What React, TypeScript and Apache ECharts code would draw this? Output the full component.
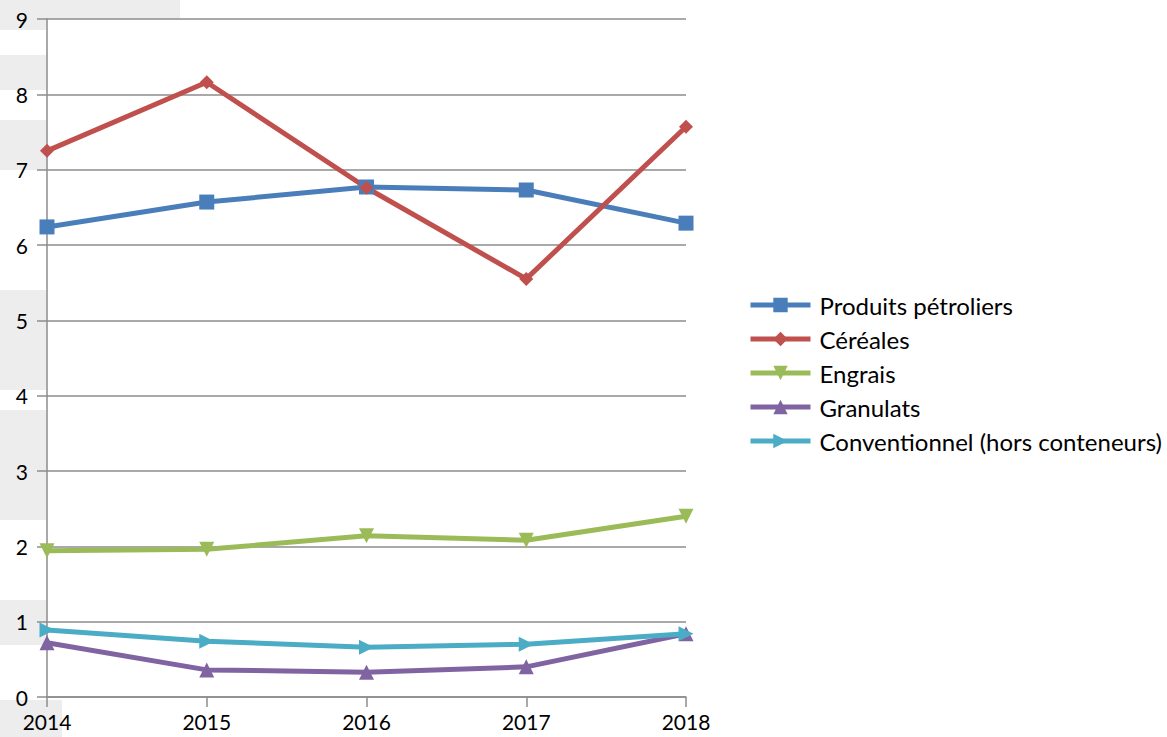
import React, { useEffect, useRef } from "react";
import * as echarts from "echarts";

const years = ["2014", "2015", "2016", "2017", "2018"];
const produitsPetroliers = [6.24, 6.57, 6.77, 6.73, 6.29];
const cereales = [7.25, 8.16, 6.76, 5.55, 7.57];
const engrais = [1.94, 1.96, 2.14, 2.08, 2.4];
const granulats = [0.72, 0.36, 0.33, 0.4, 0.84];
const conventionnel = [0.89, 0.74, 0.66, 0.7, 0.84];

const FONT = "Lato, 'Open Sans', sans-serif";

export default function App() {
  const ref = useRef<HTMLDivElement>(null);
  useEffect(() => {
    if (!ref.current) return;
    const chart = echarts.init(ref.current, null, { renderer: "svg" });
    const mk = (name: string, data: number[], color: string, symbol: string, size: number, rot = 0) => ({
      name,
      type: "line",
      data,
      symbol,
      symbolSize: size,
      symbolRotate: rot,
      showSymbol: true,
      lineStyle: { color, width: 5 },
      itemStyle: { color },
      z: 3,
    });
    const wm = "#ededed";
    chart.setOption({
      animation: false,
      backgroundColor: "#ffffff",
      textStyle: { fontFamily: FONT },
      graphic: [
        { type: "rect", z: -10, shape: { x: 0, y: 0, width: 180, height: 19 }, style: { fill: wm } },
        { type: "rect", z: -10, shape: { x: 0, y: 0, width: 47, height: 30 }, style: { fill: wm } },
        { type: "rect", z: -10, shape: { x: 0, y: 55, width: 47, height: 35 }, style: { fill: wm } },
        { type: "rect", z: -10, shape: { x: 0, y: 120, width: 47, height: 50 }, style: { fill: wm } },
        { type: "rect", z: -10, shape: { x: 0, y: 290, width: 47, height: 100 }, style: { fill: wm } },
        { type: "rect", z: -10, shape: { x: 0, y: 410, width: 47, height: 110 }, style: { fill: wm } },
        { type: "rect", z: -10, shape: { x: 0, y: 600, width: 47, height: 45 }, style: { fill: wm } },
        { type: "rect", z: -10, shape: { x: 0, y: 700, width: 62, height: 37 }, style: { fill: wm } },
      ],
      grid: { left: 47, right: 481, top: 19, bottom: 40, containLabel: false },
      legend: {
        orient: "vertical",
        left: 743,
        top: 288,
        itemWidth: 60,
        itemHeight: 18,
        itemGap: 10,
        lineStyle: { width: 5 },
        textStyle: { fontFamily: FONT, fontSize: 24, color: "#000", padding: [0, 0, 0, 4] },
        data: ["Produits pétroliers", "Céréales", "Engrais", "Granulats", "Conventionnel (hors conteneurs)"],
      },
      xAxis: {
        type: "category",
        data: years,
        boundaryGap: false,
        axisLine: { lineStyle: { color: "#8c8c8c", width: 1.5 } },
        axisTick: { show: true, length: 10, alignWithLabel: true, lineStyle: { color: "#8c8c8c", width: 1.5 } },
        axisLabel: { fontFamily: FONT, fontSize: 21, color: "#000", margin: 14 },
        splitLine: { show: false },
      },
      yAxis: {
        type: "value",
        min: 0,
        max: 9,
        interval: 1,
        axisLine: { show: true, lineStyle: { color: "#8c8c8c", width: 1.5 } },
        axisTick: { show: true, length: 10, lineStyle: { color: "#8c8c8c", width: 1.5 } },
        axisLabel: { fontFamily: FONT, fontSize: 21, color: "#000", margin: 19 },
        splitLine: { show: true, lineStyle: { color: "#8c8c8c", width: 1.5 } },
      },
      series: [
        mk("Produits pétroliers", produitsPetroliers, "#4a7ebb", "rect", 15),
        mk("Céréales", cereales, "#c0504d", "diamond", 14),
        mk("Engrais", engrais, "#9bbb59", "triangle", 15, 180),
        mk("Granulats", granulats, "#8064a2", "triangle", 15),
        mk("Conventionnel (hors conteneurs)", conventionnel, "#4bacc6", "triangle", 15, -90),
      ],
    });
    return () => chart.dispose();
  }, []);
  return <div ref={ref} style={{ width: 1167, height: 737, position: "absolute", left: 0, top: 0 }} />;
}
